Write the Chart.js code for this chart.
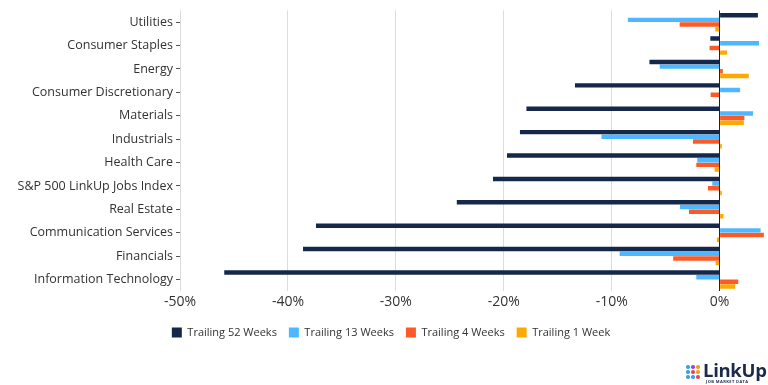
<!DOCTYPE html>
<html>
<head>
<meta charset="utf-8">
<script src="https://cdn.jsdelivr.net/npm/chart.js@4.4.0/dist/chart.umd.min.js"></script>
<style>
  html, body { margin: 0; padding: 0; background: #fff; }
  #wrap { position: relative; width: 768px; height: 385px; }
  #logo { position: absolute; left: 686px; top: 362px; width: 80px; height: 23px; font-family: "Open Sans", sans-serif; }
  #dots { position: absolute; left: 0; top: 3px; width: 15px; height: 15px; }
  #dots span { position: absolute; width: 3.6px; height: 3.6px; border-radius: 50%; }
  #lt { position: absolute; left: 17px; top: -2px; font-size: 18.5px; font-weight: 700; color: #1b2a4a; letter-spacing: -0.3px; line-height: 20px; }
  #sub { position: absolute; left: 20px; top: 17px; font-size: 4px; font-weight: 700; color: #1b2a4a; letter-spacing: 0.4px; white-space: nowrap; }
</style>
</head>
<body>
<div id="wrap">
  <canvas id="c" width="768" height="385"></canvas>
  <div id="logo">
    <div id="dots"></div>
    <div id="lt">LinkUp</div>
    <div id="sub">JOB MARKET DATA</div>
  </div>
</div>
<script>
const categories = ["Utilities", "Consumer Staples", "Energy", "Consumer Discretionary", "Materials", "Industrials", "Health Care", "S&P 500 LinkUp Jobs Index", "Real Estate", "Communication Services", "Financials", "Information Technology"];
const trailing52 = [3.55, -0.86, -6.5, -13.4, -17.9, -18.5, -19.7, -21.0, -24.35, -37.4, -38.6, -45.9];
const trailing13 = [-8.5, 3.65, -5.55, 1.9, 3.1, -10.95, -2.07, -0.68, -3.67, 3.8, -9.26, -2.16];
const trailing4 = [-3.7, -0.93, 0.3, -0.83, 2.3, -2.47, -2.16, -1.08, -2.84, 4.1, -4.3, 1.73];
const trailing1 = [-0.4, 0.7, 2.7, 0.05, 2.25, 0.2, -0.46, 0.2, 0.37, -0.25, -0.37, 1.45];
const seriesNames = ["Trailing 52 Weeks", "Trailing 13 Weeks", "Trailing 4 Weeks", "Trailing 1 Week"];
const seriesColors = ["#15284b", "#4db8ff", "#ff5a26", "#ffa800"];
const xTicks = [-50, -40, -30, -20, -10, 0];

// logo dots
const dotColors = ["#3aa0e8","#8a4fd0","#f0a020","#3aa0e8","#e04a6a","#f0a020","#3aa0e8","#3aa0e8","#e04a6a"];
const dotsEl = document.getElementById('dots');
dotColors.forEach((c, i) => {
  const s = document.createElement('span');
  s.style.background = c;
  s.style.left = (i % 3) * 5 + 'px';
  s.style.top = Math.floor(i / 3) * 5 + 'px';
  dotsEl.appendChild(s);
});

const font = "'Open Sans', sans-serif";
const allSeries = [trailing52, trailing13, trailing4, trailing1];

const legendShift = {
  id: 'legendShift',
  afterLayout(chart) {
    const lg = chart.legend;
    if (lg) { lg.left = 0; lg.right = 782; lg.top += 3; lg.bottom += 3; }
  }
};

new Chart(document.getElementById('c'), {
  type: 'bar',
  data: {
    labels: categories,
    datasets: allSeries.map((d, i) => ({
      label: seriesNames[i],
      data: d,
      backgroundColor: seriesColors[i],
      borderWidth: 0,
      categoryPercentage: 0.8,
      barPercentage: 0.95
    }))
  },
  options: {
    indexAxis: 'y',
    responsive: false,
    animation: false,
    layout: { padding: { left: 0, right: 2, top: 6, bottom: 40 } },
    plugins: {
      legend: {
        position: 'bottom',
        align: 'center',
        labels: {
          boxWidth: 10,
          boxHeight: 10,
          padding: 12,
          color: '#333',
          font: { family: font, size: 11 }
        }
      },
      tooltip: { enabled: false }
    },
    scales: {
      x: {
        min: -50,
        max: 4.3,
        afterBuildTicks(scale) {
          scale.ticks = xTicks.map(v => ({ value: v }));
        },
        ticks: {
          color: '#333',
          padding: 2,
          font: { family: font, size: 14 },
          callback: v => v + '%'
        },
        grid: {
          drawTicks: false,
          color: ctx => (ctx.tick && ctx.tick.value === 0) ? '#222' : '#dcdcdc',
          lineWidth: 1
        },
        border: { display: false }
      },
      y: {
        afterFit(scale) { scale.width = 180; },
        ticks: {
          color: '#333',
          padding: 3,
          autoSkip: false,
          font: { family: font, size: 12.5 }
        },
        grid: {
          offset: false,
          drawOnChartArea: false,
          drawTicks: true,
          tickLength: 4,
          color: '#555'
        },
        border: { display: false }
      }
    }
  },
  plugins: [legendShift]
});
</script>
</body>
</html>
